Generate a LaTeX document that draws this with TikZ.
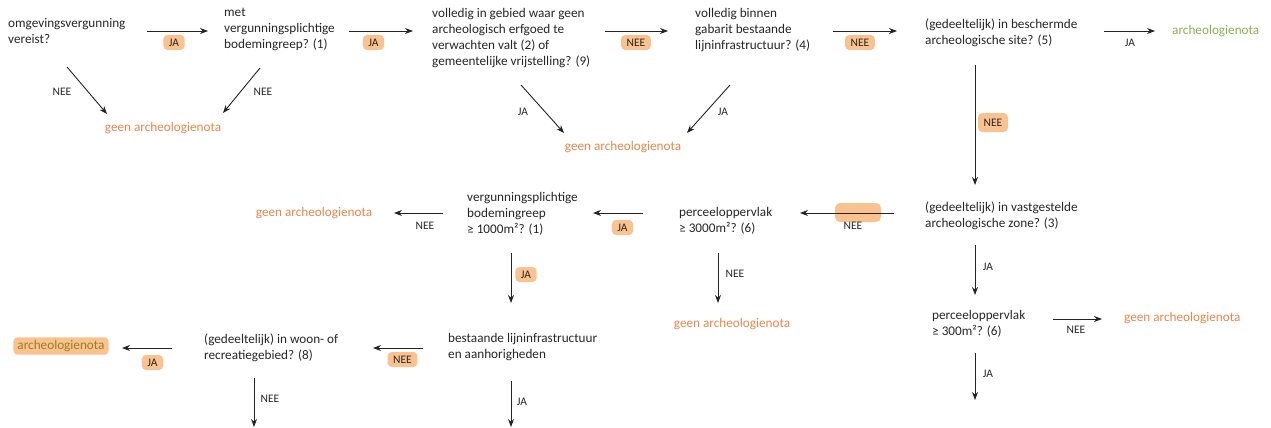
\documentclass[tikz,border=0pt]{standalone}
\usepackage{fontspec}
\setmainfont{Carlito}
\usetikzlibrary{arrows.meta}
\definecolor{oranje}{RGB}{234,134,74}
\definecolor{groen}{RGB}{140,176,78}
\definecolor{olijf}{RGB}{150,128,35}
\definecolor{markeer}{RGB}{249,194,143}
\definecolor{lijn}{RGB}{35,35,35}
\tikzset{
  vraag/.style={anchor=west,align=left,inner sep=0pt,text=black!85,font=\fontsize{13.2}{16}\selectfont},
  nota/.style={inner sep=0pt,text=oranje,font=\fontsize{13.2}{16}\selectfont},
  lbl/.style={inner sep=0pt,text=black!85,font=\fontsize{11.5}{13}\selectfont},
  hl/.style={lbl,fill=markeer,rounded corners=4pt,inner xsep=5.5pt,inner ysep=3.5pt,text height=8pt,text depth=0pt},
  pijl/.style={draw=lijn,line width=0.9pt,->}
}
\begin{document}
\begin{tikzpicture}[x=1pt,y=-1pt,>={Stealth[length=8pt,width=6pt]}]
    \useasboundingbox (0,0) rectangle (1271,428);
    % vragen
    \node[vraag] (omg) at (8,31) {omgevingsvergunning\\vereist?};
    \node[vraag] (met) at (224,29.5) {met\\vergunningsplichtige\\bodemingreep? (1)};
    \node[vraag] (vol) at (432,38) {volledig in gebied waar geen\\archeologisch erfgoed te\\verwachten valt (2) of\\gemeentelijke vrijstelling? (9)};
    \node[vraag] (gab) at (695,30) {volledig binnen\\gabarit bestaande\\lijninfrastructuur? (4)};
    \node[vraag] (site) at (925,32.5) {(gedeeltelijk) in beschermde\\archeologische site? (5)};
    \node[vraag] (zone) at (925,215.5) {(gedeeltelijk) in vastgestelde\\archeologische zone? (3)};
    \node[vraag] (perc1) at (679,221) {perceeloppervlak\\≥ 3000m²? (6)};
    \node[vraag] (ingreep) at (467,213.5) {vergunningsplichtige\\bodemingreep\\≥ 1000m²? (1)};
    \node[vraag] (perc2) at (932,323.5) {perceeloppervlak\\≥ 300m²? (6)};
    \node[vraag] (infra) at (448,347) {bestaande lijninfrastructuur\\en aanhorigheden};
    \node[vraag] (woon) at (204,348) {(gedeeltelijk) in woon- of\\recreatiegebied? (8)};
    % uitkomsten
    \node[nota,anchor=west,text=groen] (nota1) at (1172,31) {archeologienota};
    \node[nota,fill=markeer,text=olijf,rounded corners=4pt,inner xsep=4pt,inner ysep=3pt] (nota2) at (61,346) {archeologienota};
    \node[nota] (geen1) at (163,128) {geen archeologienota};
    \node[nota] (geen2) at (623,147) {geen archeologienota};
    \node[nota] (geen3) at (314,213) {geen archeologienota};
    \node[nota] (geen4) at (732,324) {geen archeologienota};
    \node[nota,anchor=west] (geen5) at (1124,318) {geen archeologienota};
    % losse markering
    \node[fill=markeer,rounded corners=5pt,minimum width=46pt,minimum height=19pt,inner sep=0pt] (vlek) at (858,212.5) {};
    % pijlen
    \path (147,31) coordinate (p1) (208,31) coordinate (q1);
    \path (349,31) coordinate (p2) (413,31) coordinate (q2);
    \path (605,31) coordinate (p3) (668,31) coordinate (q3);
    \path (833,31) coordinate (p4) (897,31) coordinate (q4);
    \path (1104,31) coordinate (p5) (1155,31) coordinate (q5);
    \path (67,67) coordinate (p6) (107,114) coordinate (q6);
    \path (260,68) coordinate (p7) (223,113) coordinate (q7);
    \path (521,85) coordinate (p8) (564,133) coordinate (q8);
    \path (730,85) coordinate (p9) (687,133) coordinate (q9);
    \path (975,65) coordinate (p10) (975,185) coordinate (q10);
    \path (894,213) coordinate (p11) (800,213) coordinate (q11);
    \path (643,213) coordinate (p12) (593,213) coordinate (q12);
    \path (443,213) coordinate (p13) (394,213) coordinate (q13);
    \path (718,253) coordinate (p14) (718,303) coordinate (q14);
    \path (975,245) coordinate (p15) (975,295) coordinate (q15);
    \path (511,253) coordinate (p16) (511,303) coordinate (q16);
    \path (1053,319) coordinate (p17) (1102,319) coordinate (q17);
    \path (975,353) coordinate (p18) (975,400) coordinate (q18);
    \path (423,348) coordinate (p19) (373,348) coordinate (q19);
    \path (172,348) coordinate (p20) (122,348) coordinate (q20);
    \path (254,378) coordinate (p21) (254,427) coordinate (q21);
    \path (511,381) coordinate (p22) (511,427) coordinate (q22);
    \draw[pijl] (p1)--(q1);
    \draw[pijl] (p2)--(q2);
    \draw[pijl] (p3)--(q3);
    \draw[pijl] (p4)--(q4);
    \draw[pijl] (p5)--(q5);
    \draw[pijl] (p6)--(q6);
    \draw[pijl] (p7)--(q7);
    \draw[pijl] (p8)--(q8);
    \draw[pijl] (p9)--(q9);
    \draw[pijl] (p10)--(q10);
    \draw[pijl] (p11)--(q11);
    \draw[pijl] (p12)--(q12);
    \draw[pijl] (p13)--(q13);
    \draw[pijl] (p14)--(q14);
    \draw[pijl] (p15)--(q15);
    \draw[pijl] (p16)--(q16);
    \draw[pijl] (p17)--(q17);
    \draw[pijl] (p18)--(q18);
    \draw[pijl] (p19)--(q19);
    \draw[pijl] (p20)--(q20);
    \draw[pijl] (p21)--(q21);
    \draw[pijl] (p22)--(q22);
    % labels
    \node[hl] (l1) at (174,42.5) {JA};
    \node[hl] (l2) at (373.5,42.5) {JA};
    \node[hl] (l3) at (636,42.5) {NEE};
    \node[hl] (l4) at (860,42.5) {NEE};
    \node[lbl] (l5) at (1130,43) {JA};
    \node[lbl] (l6) at (62,92) {NEE};
    \node[lbl] (l7) at (263,92) {NEE};
    \node[lbl] (l8) at (523,112) {JA};
    \node[lbl] (l9) at (723,112) {JA};
    \node[hl,minimum height=19pt] (l10) at (993,122.5) {NEE};
    \node[lbl] (l11) at (853,226) {NEE};
    \node[hl] (l12) at (622.5,227.5) {JA};
    \node[lbl] (l13) at (425,226) {NEE};
    \node[lbl] (l14) at (735,274) {NEE};
    \node[lbl] (l15) at (988,267) {JA};
    \node[hl] (l16) at (526,274.5) {JA};
    \node[lbl] (l17) at (1076,330) {NEE};
    \node[lbl] (l18) at (988,374) {JA};
    \node[hl] (l19) at (402.5,359.5) {NEE};
    \node[hl] (l20) at (152.5,362.5) {JA};
    \node[lbl] (l21) at (270,399) {NEE};
    \node[lbl] (l22) at (522,402) {JA};
\end{tikzpicture}
\end{document}
